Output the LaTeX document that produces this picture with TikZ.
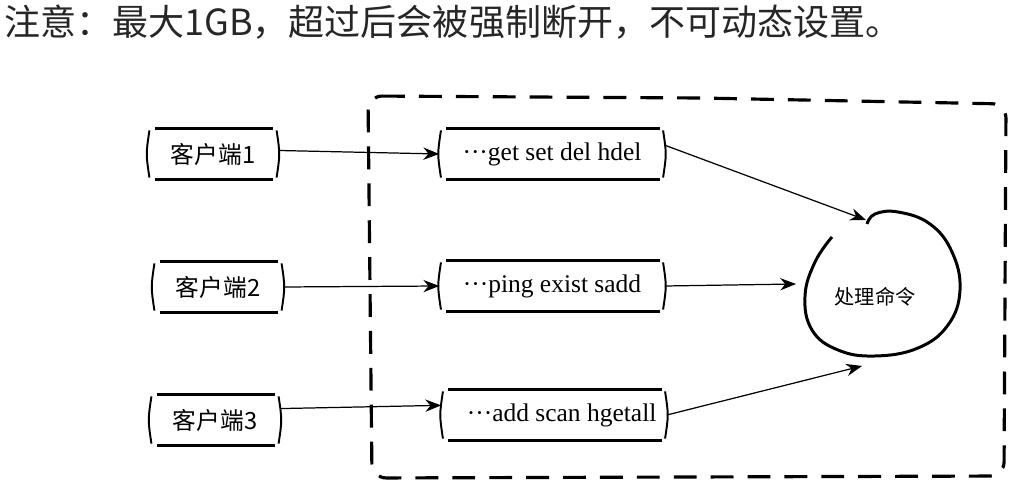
\documentclass[tikz,border=0pt]{standalone}
\usepackage{fontspec}
\setmainfont{Liberation Serif}
\newfontfamily\cjk{Noto Sans CJK SC}
\usetikzlibrary{arrows.meta,positioning}

% rough box border from the anchors of a node
\newcommand{\roughbox}[1]{%
  \draw[line width=1.5pt] ([xshift=4pt]#1.north west) -- ([xshift=-3pt]#1.north east);
  \draw[line width=1.5pt] ([xshift=4pt]#1.south west) -- ([xshift=-3pt]#1.south east);
  \draw[line width=1.1pt] ([xshift=1pt,yshift=-1pt]#1.north west) .. controls ([xshift=-1pt]#1.west) .. ([xshift=1pt,yshift=1pt]#1.south west);
  \draw[line width=1.1pt] ([xshift=-1pt,yshift=-1pt]#1.north east) .. controls ([xshift=1pt]#1.east) .. ([xshift=-1pt,yshift=1pt]#1.south east);
}

\begin{document}
\begin{tikzpicture}[x=0.02cm,y=-0.02cm]
                    \tikzstyle{client}=[minimum width=2.6cm,minimum height=1cm,inner sep=0pt,font=\cjk\fontsize{13.5}{15}\selectfont]
                    \tikzstyle{cmd}=[minimum width=4.5cm,minimum height=1cm,inner sep=0pt,font=\fontsize{14.5}{16}\selectfont]
                    \tikzstyle{conn}=[line width=0.7pt,-{Stealth[length=9pt,width=7pt]}]
                    \useasboundingbox (0,0) rectangle (1016,492);
                    \fill[white] (0,0) rectangle (1016,492);
                    % heading
                    \node[anchor=west,inner sep=0pt,font=\cjk\fontsize{20.5}{22}\selectfont,text=black!85] (note) at (4,22)
                        {注意：最大1GB，超过后会被强制断开，不可动态设置。};
                    % server frame
                    \draw[line width=1.8pt,dash pattern=on 13pt off 8pt,rounded corners=8]
                        (368,96) -- (700,98) -- (1006,104) -- (1004,476) -- (372,478) -- cycle;
                    % clients
                    \node[client] (c1) at (213,154) {客户端1};
                    \node[client] (c2) at (218,287) {客户端2};
                    \node[client] (c3) at (215,420) {客户端3};
                    % command queues
                    \node[cmd] (q1) at (552,154) {···get set del hdel};
                    \node[cmd] (q2) at (552,286) {···ping exist sadd};
                    \node[cmd] (q3) at (554,415) {\hspace{0.6em}···add scan hgetall};
                    \roughbox{c1} \roughbox{c2} \roughbox{c3}
                    \roughbox{q1} \roughbox{q2} \roughbox{q3}
                    % processing blob
                    \node[font=\cjk\fontsize{11.5}{13}\selectfont] (proc) at (875,297) {处理命令};
                    \draw[line width=1.7pt] plot[smooth,tension=0.7] coordinates
                        {(832,237) (815,262) (805,296) (812,330) (838,350) (875,356) (918,348) (948,325) (960,290) (952,252) (930,224) (898,212) (875,214) (867,224)};
                    \coordinate (in1) at (866,220);
                    \coordinate (in2) at (796,284);
                    \coordinate (in3) at (862,366);
                    % arrows
                    \draw[conn] ([yshift=2pt]c1.east) -- ([yshift=0pt]q1.west);
                    \draw[conn] (c2.east) -- (q2.west);
                    \draw[conn] ([yshift=6.5pt]c3.east) -- ([yshift=5.5pt]q3.west);
                    \draw[conn] ([yshift=5pt]q1.east) -- (in1);
                    \draw[conn] (q2.east) -- (in2);
                    \draw[conn] (q3.east) -- (in3);
                \end{tikzpicture}
\end{document}
